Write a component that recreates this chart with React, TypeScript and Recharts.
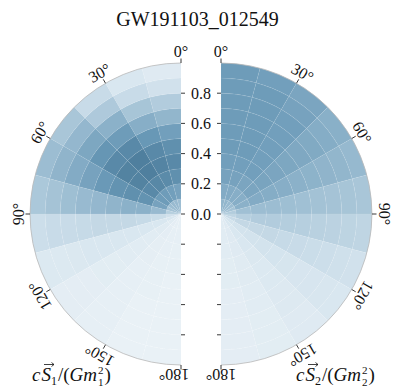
import { PieChart, Pie, Cell } from 'recharts';

const TITLE = 'GW191103_012549';

// tilt bin centres (deg from the orbital angular momentum) and spin magnitude bin centres
const tiltBins = [7.5, 22.5, 37.5, 52.5, 67.5, 82.5, 97.5, 112.5, 127.5, 142.5, 157.5, 172.5];
const tiltBinWidth = 15;
const magnitudeBins = [0.05, 0.15, 0.25, 0.35, 0.45, 0.55, 0.65, 0.75, 0.85, 0.95];
const magnitudeBinWidth = 0.1;

// posterior density (relative, 0..1), one row per tilt bin, one column per magnitude bin
const primaryDensity = [
  [0.5, 0.68, 0.8, 0.84, 0.8, 0.7, 0.55, 0.4, 0.26, 0.16],
  [0.52, 0.7, 0.83, 0.87, 0.84, 0.75, 0.6, 0.45, 0.3, 0.2],
  [0.52, 0.72, 0.85, 0.9, 0.9, 0.84, 0.72, 0.58, 0.42, 0.3],
  [0.5, 0.72, 0.84, 0.88, 0.88, 0.84, 0.76, 0.65, 0.54, 0.44],
  [0.46, 0.68, 0.78, 0.8, 0.78, 0.74, 0.68, 0.62, 0.56, 0.5],
  [0.38, 0.52, 0.58, 0.58, 0.56, 0.54, 0.52, 0.49, 0.46, 0.43],
  [0.26, 0.29, 0.31, 0.32, 0.32, 0.32, 0.31, 0.3, 0.3, 0.28],
  [0.2, 0.2, 0.2, 0.2, 0.2, 0.2, 0.2, 0.19, 0.18, 0.18],
  [0.15, 0.15, 0.14, 0.14, 0.14, 0.13, 0.13, 0.12, 0.12, 0.12],
  [0.12, 0.12, 0.11, 0.11, 0.1, 0.1, 0.1, 0.1, 0.1, 0.1],
  [0.1, 0.1, 0.1, 0.09, 0.09, 0.09, 0.08, 0.08, 0.08, 0.08],
  [0.1, 0.1, 0.09, 0.09, 0.08, 0.08, 0.08, 0.08, 0.08, 0.08],
];

const secondaryDensity = [
  [0.55, 0.62, 0.68, 0.7, 0.72, 0.72, 0.72, 0.72, 0.72, 0.72],
  [0.55, 0.62, 0.68, 0.7, 0.72, 0.72, 0.72, 0.72, 0.72, 0.7],
  [0.52, 0.6, 0.66, 0.7, 0.7, 0.7, 0.7, 0.7, 0.68, 0.66],
  [0.5, 0.6, 0.66, 0.67, 0.66, 0.65, 0.64, 0.63, 0.61, 0.59],
  [0.46, 0.58, 0.62, 0.61, 0.6, 0.58, 0.57, 0.56, 0.55, 0.53],
  [0.4, 0.48, 0.5, 0.5, 0.49, 0.48, 0.47, 0.46, 0.45, 0.44],
  [0.34, 0.38, 0.4, 0.4, 0.39, 0.38, 0.37, 0.36, 0.35, 0.34],
  [0.3, 0.32, 0.32, 0.32, 0.31, 0.3, 0.29, 0.28, 0.27, 0.26],
  [0.24, 0.25, 0.25, 0.25, 0.24, 0.23, 0.22, 0.22, 0.21, 0.2],
  [0.2, 0.2, 0.2, 0.19, 0.18, 0.18, 0.17, 0.17, 0.16, 0.16],
  [0.16, 0.16, 0.16, 0.15, 0.15, 0.14, 0.14, 0.13, 0.13, 0.13],
  [0.14, 0.14, 0.14, 0.13, 0.13, 0.12, 0.12, 0.12, 0.12, 0.12],
];

const radialTicks = [0, 0.2, 0.4, 0.6, 0.8];
const radialMinorTicks = [-0.2, -0.4, -0.6, -0.8];
const angleTicks = [0, 30, 60, 90, 120, 150, 180];

// layout
const W = 395;
const H = 389;
const R = 151;
const CY = 214;
const LEFT_CX = 181;
const RIGHT_CX = 221;
const FONT = "'Liberation Serif', 'DejaVu Serif', serif";

const COLOR_STOPS: [number, number[]][] = [
  [0, [243, 247, 250]],
  [0.25, [211, 227, 237]],
  [0.5, [156, 189, 210]],
  [0.75, [104, 152, 182]],
  [1, [63, 111, 142]],
];

function densityColor(v: number) {
  for (let i = 1; i < COLOR_STOPS.length; i++) {
    const [t1, c1] = COLOR_STOPS[i];
    const [t0, c0] = COLOR_STOPS[i - 1];
    if (v <= t1 || i === COLOR_STOPS.length - 1) {
      const f = Math.max(0, Math.min(1, (v - t0) / (t1 - t0)));
      const c = c0.map((a, k) => Math.round(a + (c1[k] - a) * f));
      return `rgb(${c[0]},${c[1]},${c[2]})`;
    }
  }
  return 'white';
}

function ringData(density: number[][], ring: number) {
  return tiltBins.map((tilt, j) => ({
    tilt,
    value: tiltBinWidth,
    density: density[j][ring],
  }));
}

function SpinDisk({ density, cx, side }: { density: number[][]; cx: number; side: 'left' | 'right' }) {
  return (
    <>
      {magnitudeBins.map((m, i) => (
        <Pie
          key={`${side}-${i}`}
          data={ringData(density, i)}
          dataKey="value"
          cx={cx}
          cy={CY}
          innerRadius={(m - magnitudeBinWidth / 2) * R}
          outerRadius={(m + magnitudeBinWidth / 2) * R}
          startAngle={90}
          endAngle={side === 'left' ? 270 : -90}
          isAnimationActive={false}
          label={false}
          labelLine={false}
        >
          {tiltBins.map((t, j) => (
            <Cell
              key={`c-${j}`}
              fill={densityColor(density[j][i])}
              stroke="#ffffff"
              strokeOpacity={0.1}
              strokeWidth={0.5}
            />
          ))}
        </Pie>
      ))}
    </>
  );
}

function AxisLabel({ x, idx }: { x: number; idx: number }) {
  return (
    <g fontFamily={FONT} fill="#111">
      <text x={x} y={381} fontSize={19}>
        <tspan fontStyle="italic">c</tspan>
        <tspan fontStyle="italic" dx={1}>S</tspan>
        <tspan fontSize={12} dy={4}>{idx}</tspan>
        <tspan dy={-4} dx={1}>/(</tspan>
        <tspan fontStyle="italic">Gm</tspan>
        <tspan dx={7.5}>)</tspan>
      </text>
      {/* stacked sup/sub on m */}
      <text x={x + 66} y={374} fontSize={11}>2</text>
      <text x={x + 66} y={386} fontSize={11}>{idx}</text>
      {/* vector arrow over S */}
      <path
        d={`M ${x + 12} 364.5 L ${x + 22} 364.5 M ${x + 19.5} 362.5 L ${x + 22} 364.5 L ${x + 19.5} 366.5`}
        stroke="#111"
        strokeWidth={0.8}
        fill="none"
      />
    </g>
  );
}

function Overlay() {
  const polar = (cx: number, side: number, deg: number, r: number) => {
    const a = (deg * Math.PI) / 180;
    return [cx + side * r * Math.sin(a), CY - r * Math.cos(a)];
  };
  const disks: [number, number][] = [
    [LEFT_CX, -1],
    [RIGHT_CX, 1],
  ];
  return (
    <svg
      width={W}
      height={H}
      style={{ position: 'absolute', left: 0, top: 0, pointerEvents: 'none' }}
    >
      <text x={W / 2} y={26} textAnchor="middle" fontFamily={FONT} fontSize={20} fill="#111">
        {TITLE}
      </text>
      {disks.map(([cx, side]) => (
        <g key={cx}>
          <path
            d={`M ${cx} ${CY - R} A ${R} ${R} 0 0 ${side > 0 ? 1 : 0} ${cx} ${CY + R}`}
            fill="none"
            stroke="#b8b8b8"
            strokeWidth={0.8}
          />
          {angleTicks.map((deg) => {
            const [x0, y0] = polar(cx, side, deg, R);
            const [x1, y1] = polar(cx, side, deg, R + 4.5);
            const [lx, ly] = polar(cx, side, deg, 163);
            const tx = lx + (deg === 180 && side < 0 ? -7 : 0);
            const ty = ly - (deg === 180 ? 3 : 0);
            return (
              <g key={deg}>
                <line x1={x0} y1={y0} x2={x1} y2={y1} stroke="#222" strokeWidth={0.9} />
                <text
                  x={tx}
                  y={ty}
                  textAnchor="middle"
                  dominantBaseline="central"
                  fontFamily={FONT}
                  fontSize={16}
                  fill="#111"
                  transform={`rotate(${side * deg} ${tx} ${ty})`}
                >
                  {`${deg}°`}
                </text>
              </g>
            );
          })}
          {[...radialTicks, ...radialMinorTicks].map((t) => (
            <line
              key={t}
              x1={cx}
              x2={cx - side * 4}
              y1={CY - t * R}
              y2={CY - t * R}
              stroke="#222"
              strokeWidth={0.9}
            />
          ))}
        </g>
      ))}
      {radialTicks.map((t) => (
        <text
          key={t}
          x={(LEFT_CX + RIGHT_CX) / 2}
          y={CY - t * R}
          textAnchor="middle"
          dominantBaseline="central"
          fontFamily={FONT}
          fontSize={16}
          fill="#111"
        >
          {t.toFixed(1)}
        </text>
      ))}
      <AxisLabel x={32} idx={1} />
      <AxisLabel x={296} idx={2} />
    </svg>
  );
}

export default function App() {
  return (
    <div style={{ position: 'absolute', left: 0, top: 0, width: W, height: H, background: '#fff' }}>
      <PieChart width={W} height={H} margin={{ top: 0, right: 0, bottom: 0, left: 0 }}>
        <SpinDisk density={primaryDensity} cx={LEFT_CX} side="left" />
        <SpinDisk density={secondaryDensity} cx={RIGHT_CX} side="right" />
      </PieChart>
      <Overlay />
    </div>
  );
}
